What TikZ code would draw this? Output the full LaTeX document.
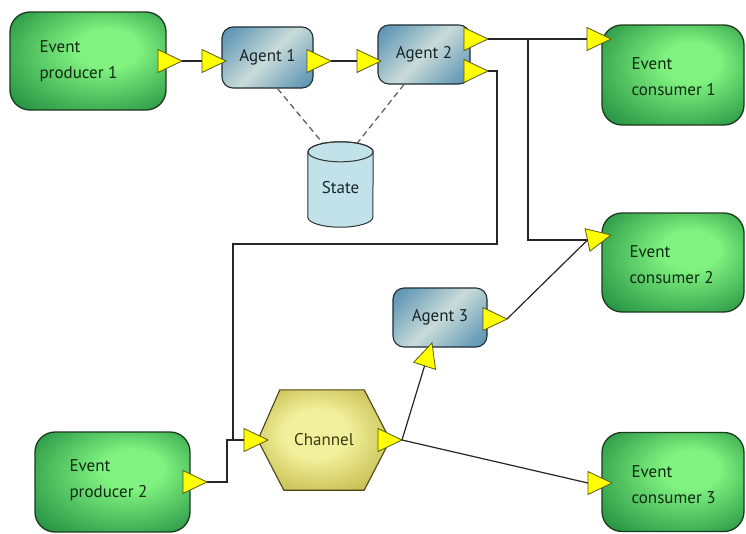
\documentclass[tikz,border=0pt]{standalone}
\usepackage{fontspec}
\setmainfont{PT Sans}
\usetikzlibrary{shapes.geometric,calc}
\definecolor{glight}{HTML}{7FF27F}
\definecolor{gdark}{HTML}{1E8A3E}
\definecolor{gborder}{HTML}{1C3A1C}
\definecolor{alight}{HTML}{C9DCD8}
\definecolor{adark}{HTML}{2C74A4}
\definecolor{aborder}{HTML}{1E2E34}
\definecolor{ylight}{HTML}{F2F09C}
\definecolor{ydark}{HTML}{AEA52A}
\definecolor{yborder}{HTML}{4A4416}
\definecolor{portfill}{HTML}{FFFF00}
\definecolor{portborder}{HTML}{5A5A10}
\definecolor{statefill}{HTML}{C2E2EA}
\definecolor{txtgreen}{HTML}{0E2A12}
\definecolor{txtagent}{HTML}{16252C}
\definecolor{txtchan}{HTML}{3A3A10}
\pgfdeclareradialshading{greenglow}{\pgfpoint{8bp}{8bp}}{color(0bp)=(glight); color(10bp)=(glight); color(38bp)=(gdark); color(50bp)=(gdark!85!black)}
\pgfdeclareradialshading{changlow}{\pgfpoint{-4bp}{4bp}}{color(0bp)=(ylight); color(12bp)=(ylight); color(40bp)=(ydark); color(50bp)=(ydark)}
\pgfdeclarehorizontalshading{agentsh}{100bp}{color(0bp)=(adark); color(25bp)=(adark!55!alight); color(50bp)=(alight); color(75bp)=(adark!55!alight); color(100bp)=(adark)}
\tikzset{
  evbox/.style={rectangle, rounded corners=20pt, draw=gborder, line width=1.3pt,
    shading=greenglow},
  evtext/.style={anchor=west, inner sep=0pt, align=left, text=txtgreen},
  agentbox/.style={rectangle, rounded corners=11pt, draw=aborder, line width=1.1pt,
    shading=agentsh, shading angle=-45, text=txtagent},
  port/.style={isosceles triangle, isosceles triangle stretches, minimum width=23pt,
    minimum height=24pt, inner sep=0pt, outer sep=0pt, fill=portfill, draw=portborder,
    line width=0.8pt},
  conn/.style={draw=black!85, line width=1.2pt},
  dash line/.style={draw=black!65, line width=1.2pt, dash pattern=on 6pt off 4pt},
}
\begin{document}
\begin{tikzpicture}[x=1pt, y=-1pt, font=\fontsize{17}{26}\selectfont]
\useasboundingbox (0,0) rectangle (746,533);
\fill[white] (0,0) rectangle (746,533);

% event producers and consumers
\node[evbox, minimum width=156pt, minimum height=98pt] (prod1) at (88,61) {};
\node[evbox, minimum width=155pt, minimum height=100pt] (prod2) at (112.5,482) {};
\node[evbox, minimum width=142pt, minimum height=100pt] (cons1) at (673,75) {};
\node[evbox, minimum width=142pt, minimum height=99pt] (cons2) at (673,262.5) {};
\node[evbox, minimum width=142pt, minimum height=99pt] (cons3) at (673,482) {};
\node[evtext] (prod1txt) at ($(prod1.west)+(30,0)$) {Event\\producer 1};
\node[evtext] (prod2txt) at ($(prod2.west)+(35,-2)$) {Event\\producer 2};
\node[evtext] (cons1txt) at ($(cons1.west)+(30,1.5)$) {Event\\consumer 1};
\node[evtext] (cons2txt) at ($(cons2.west)+(28,2.5)$) {Event\\consumer 2};
\node[evtext] (cons3txt) at ($(cons3.west)+(30,3)$) {Event\\consumer 3};

% agents
\node[agentbox, minimum width=91pt, minimum height=61pt] (agent1) at (267.5,57.5) {Agent 1};
\node[agentbox, minimum width=92pt, minimum height=59pt] (agent2) at (424,54.5) {Agent 2};
\node[agentbox, minimum width=94pt, minimum height=59pt] (agent3) at (440,317.5) {Agent 3};

% channel
\node[minimum width=132pt, minimum height=100pt] (chan) at (324,440) {};
\path[draw=yborder, line width=1.1pt, shading=changlow]
  (chan.west) -- ($(chan.north west)+(22,0)$) -- ($(chan.north east)+(-26,0)$)
  -- (chan.east) -- ($(chan.south east)+(-26,0)$) -- ($(chan.south west)+(26,0)$) -- cycle;
\node[text=txtchan] (chantxt) at (chan.center) {Channel};

% state store
\node[minimum width=65pt, minimum height=85pt] (state) at (340.5,184.5) {};
\path[fill=statefill, draw=black!80, line width=1pt]
  ($(state.north west)+(0,10)$) -- ($(state.south west)+(0,-10)$)
  arc[start angle=180, end angle=360, x radius=32.5pt, y radius=10pt]
  -- ($(state.north east)+(0,10)$)
  arc[start angle=0, end angle=180, x radius=32.5pt, y radius=10pt] -- cycle;
\draw[black!80, line width=1pt] ($(state.north)+(0,10)$) ellipse [x radius=32.5pt, y radius=10pt];
\node[text=txtagent] (statetxt) at ($(state.center)+(0,3)$) {State};
\coordinate (stL) at ($(state.north)+(-18,1)$);
\coordinate (stR) at ($(state.north)+(17,1)$);

% ports
\node[port, anchor=apex] (p1o) at (182,61) {};
\node[port, anchor=apex] (a1i) at (226,61) {};
\node[port, anchor=apex] (a1o) at (331,61) {};
\node[port, anchor=apex] (a2i) at (381,61) {};
\node[port, anchor=apex] (a2o1) at (488,39) {};
\node[port, anchor=apex] (a2o2) at (488,71) {};
\node[port, anchor=apex] (c1i) at (611,39) {};
\node[port, anchor=apex, rotate=12] (c2i) at (611,235) {};
\node[port, anchor=apex, rotate=72] (a3i) at (432,343) {};
\node[port, anchor=apex] (a3o) at (507,319) {};
\node[port, anchor=apex] (chi) at (268,440) {};
\node[port, anchor=apex] (cho) at (402,440) {};
\node[port, anchor=apex] (c3i) at (612,483) {};
\node[port, anchor=apex] (p2o) at (207,482) {};

% connectors
\coordinate (j1) at (528,39);
\coordinate (bend) at (233,244);
\draw[conn] (p1o.apex) -- (a1i.lower side);
\draw[conn] (a1o.apex) -- (a2i.lower side);
\draw[conn] (a2o1.apex) -- (c1i.lower side);
\draw[conn] (j1) |- (c2i.lower side);
\draw[conn] (a2o2.apex) -- ++(9,0) |- (bend) |- (chi.lower side);
\draw[conn] (p2o.apex) -- ++(20,0) |- (chi.lower side);
\draw[conn] (cho.apex) -- (a3i.lower side);
\draw[conn] (cho.apex) -- (c3i.lower side);
\draw[conn] (a3o.apex) -- (c2i.lower side);
\draw[dash line] ($(agent1.south)+(10,0)$) -- (stL);
\draw[dash line] ($(agent2.south)+(-20,0)$) -- (stR);
\end{tikzpicture}
\end{document}
